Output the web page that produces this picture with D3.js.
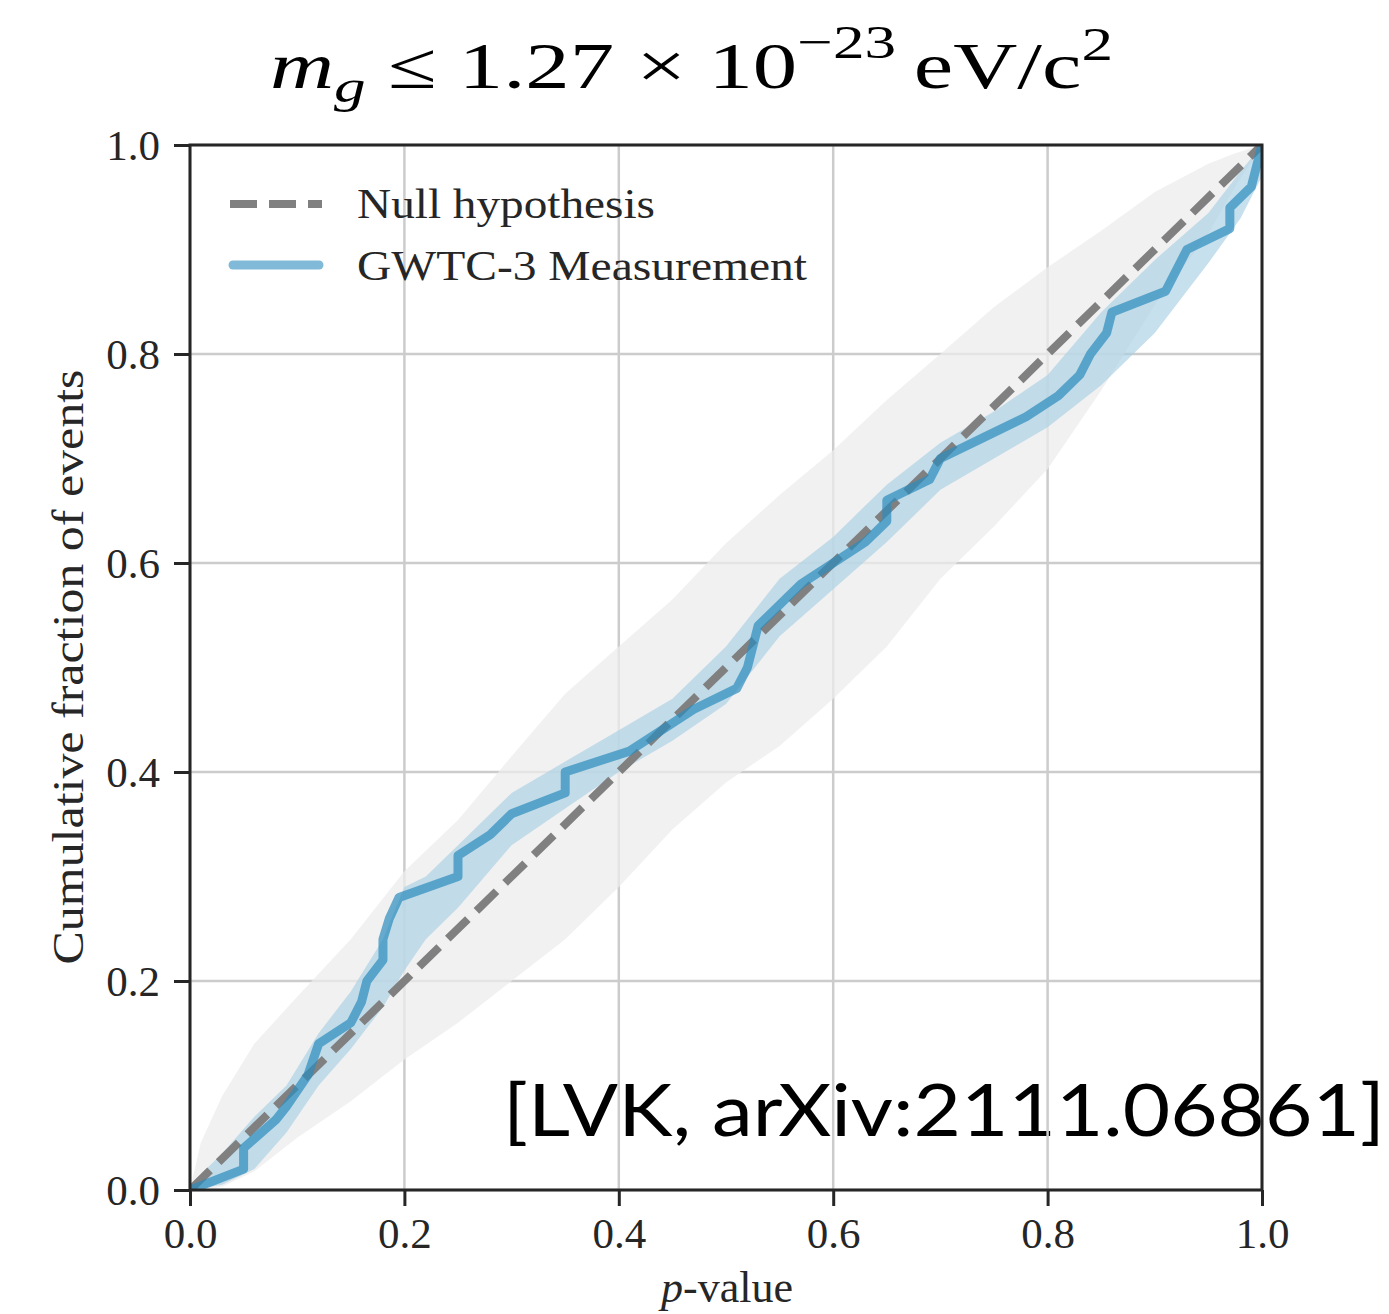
<!DOCTYPE html>
<html>
<head>
<meta charset="utf-8">
<script src="https://cdn.jsdelivr.net/npm/d3@7"></script>
<style>
  body { margin: 0; background: #fff; }
  text { font-family: "Liberation Serif", "DejaVu Serif", serif; fill: #262626; }
</style>
</head>
<body>
<svg id="chart" width="1389" height="1314"></svg>
<script>
// measured p-p curve (p-value, cumulative fraction)
var measX = [0, 0.05, 0.05, 0.08, 0.09, 0.11, 0.12, 0.15, 0.16, 0.165, 0.18, 0.18, 0.186, 0.195, 0.25, 0.25, 0.28, 0.30, 0.35, 0.35, 0.41, 0.47, 0.51, 0.52, 0.53, 0.57, 0.60, 0.63, 0.65, 0.65, 0.69, 0.70, 0.74, 0.78, 0.81, 0.83, 0.84, 0.855, 0.86, 0.91, 0.93, 0.97, 0.97, 0.99, 1.0];
var measY = [0, 0.02, 0.04, 0.067, 0.08, 0.11, 0.14, 0.16, 0.18, 0.20, 0.22, 0.24, 0.26, 0.28, 0.30, 0.32, 0.34, 0.36, 0.38, 0.40, 0.42, 0.46, 0.48, 0.50, 0.54, 0.58, 0.60, 0.62, 0.64, 0.66, 0.68, 0.70, 0.72, 0.74, 0.76, 0.78, 0.80, 0.82, 0.84, 0.86, 0.90, 0.92, 0.94, 0.96, 1.0];

// measurement uncertainty band
var bandX  = [0, 0.03, 0.06, 0.09, 0.12, 0.15, 0.18, 0.20, 0.22, 0.25, 0.30, 0.35, 0.40, 0.45, 0.50, 0.55, 0.60, 0.65, 0.70, 0.75, 0.80, 0.85, 0.90, 0.95, 0.98, 1.0];
var bandLo = [0, 0.005, 0.02, 0.055, 0.10, 0.135, 0.175, 0.21, 0.24, 0.27, 0.33, 0.365, 0.40, 0.43, 0.465, 0.53, 0.575, 0.62, 0.67, 0.70, 0.73, 0.77, 0.82, 0.887, 0.93, 0.97];
var bandHi = [0.005, 0.035, 0.07, 0.10, 0.15, 0.19, 0.24, 0.29, 0.30, 0.33, 0.38, 0.41, 0.44, 0.47, 0.52, 0.585, 0.625, 0.675, 0.715, 0.745, 0.78, 0.84, 0.89, 0.935, 0.975, 1.0];

// null-hypothesis envelope
var nullX  = [0, 0.01, 0.03, 0.06, 0.10, 0.15, 0.20, 0.25, 0.30, 0.35, 0.40, 0.45, 0.50, 0.55, 0.60, 0.65, 0.70, 0.75, 0.80, 0.85, 0.90, 0.95, 0.975, 1.0];
var nullLo = [0, 0, 0.003, 0.018, 0.05, 0.085, 0.125, 0.16, 0.20, 0.24, 0.29, 0.345, 0.39, 0.425, 0.47, 0.52, 0.585, 0.635, 0.69, 0.765, 0.847, 0.915, 0.96, 1.0];
var nullHi = [0, 0.045, 0.09, 0.14, 0.185, 0.24, 0.305, 0.354, 0.415, 0.475, 0.52, 0.565, 0.619, 0.665, 0.708, 0.756, 0.80, 0.845, 0.883, 0.918, 0.955, 0.982, 0.992, 1.0];

var tickVals = [0, 0.2, 0.4, 0.6, 0.8, 1.0];

var svg = d3.select("#chart");
var pLeft = 190, pRight = 1262, pTop = 145, pBottom = 1190;
var x = d3.scaleLinear().domain([0, 1]).range([pLeft, pRight]);
var y = d3.scaleLinear().domain([0, 1]).range([pBottom, pTop]);

// annotation, drawn first so the grid sits over it
svg.append("text").attr("x", 503).attr("y", 1136)
  .attr("textLength", 882).attr("lengthAdjust", "spacingAndGlyphs")
  .style("font-family", "Lato, 'Noto Sans', sans-serif").style("font-size", "72px").style("fill", "#000")
  .text("[LVK, arXiv:2111.06861]");

svg.append("clipPath").attr("id", "plotClip").append("rect")
  .attr("x", pLeft).attr("y", pTop).attr("width", pRight - pLeft).attr("height", pBottom - pTop);

// grid
var grid = svg.append("g");
grid.selectAll("line.gx").data(tickVals).enter().append("line")
  .attr("x1", function (d) { return x(d); }).attr("x2", function (d) { return x(d); })
  .attr("y1", pTop).attr("y2", pBottom).attr("stroke", "#cccccc").attr("stroke-width", 2.5);
grid.selectAll("line.gy").data(tickVals).enter().append("line")
  .attr("y1", function (d) { return y(d); }).attr("y2", function (d) { return y(d); })
  .attr("x1", pLeft).attr("x2", pRight).attr("stroke", "#cccccc").attr("stroke-width", 2.5);

var plot = svg.append("g").attr("clip-path", "url(#plotClip)");

var nullArea = d3.area().x(function (d, i) { return x(nullX[i]); })
  .y0(function (d, i) { return y(nullLo[i]); }).y1(function (d, i) { return y(nullHi[i]); });
plot.append("path").datum(nullX).attr("d", nullArea).attr("fill", "#ececec").attr("fill-opacity", 0.75);

var bandArea = d3.area().x(function (d, i) { return x(bandX[i]); })
  .y0(function (d, i) { return y(bandLo[i]); }).y1(function (d, i) { return y(bandHi[i]); });
plot.append("path").datum(bandX).attr("d", bandArea).attr("fill", "#a9d0e3").attr("fill-opacity", 0.65);

plot.append("line").attr("x1", x(0)).attr("y1", y(0)).attr("x2", x(1)).attr("y2", y(1))
  .attr("stroke", "#808080").attr("stroke-width", 8).attr("stroke-dasharray", "28,12");

var measLine = d3.line().x(function (d, i) { return x(measX[i]); }).y(function (d, i) { return y(measY[i]); });
plot.append("path").datum(measX).attr("d", measLine).attr("fill", "none")
  .attr("stroke", "#2b8cbe").attr("stroke-opacity", 0.7).attr("stroke-width", 9)
  .attr("stroke-linejoin", "round");

// axes
var axL = svg.append("g").attr("transform", "translate(" + pLeft + ",0)")
  .call(d3.axisLeft(y).tickValues(tickVals).tickFormat(d3.format(".1f")).tickSize(16).tickPadding(10));
var axB = svg.append("g").attr("transform", "translate(0," + pBottom + ")")
  .call(d3.axisBottom(x).tickValues(tickVals).tickFormat(d3.format(".1f")).tickSize(16).tickPadding(10));
[axL, axB].forEach(function (a) {
  a.select(".domain").remove();
  a.selectAll(".tick line").attr("stroke", "#262626").attr("stroke-width", 3);
  a.selectAll(".tick text").style("font-size", "43px").style("font-family", "'Liberation Serif', serif").attr("fill", "#262626");
});
axL.selectAll(".tick text").attr("dy", "0.34em").attr("x", -30);
axB.selectAll(".tick text").attr("dy", "0.74em");

svg.append("rect").attr("x", pLeft).attr("y", pTop).attr("width", pRight - pLeft).attr("height", pBottom - pTop)
  .attr("fill", "none").attr("stroke", "#262626").attr("stroke-width", 3);

// legend
var leg = svg.append("g");
leg.append("line").attr("x1", 230).attr("x2", 322).attr("y1", 204).attr("y2", 204)
  .attr("stroke", "#808080").attr("stroke-width", 8).attr("stroke-dasharray", "27,12");
leg.append("line").attr("x1", 233).attr("x2", 319).attr("y1", 265).attr("y2", 265)
  .attr("stroke", "#2b8cbe").attr("stroke-opacity", 0.6).attr("stroke-width", 9).attr("stroke-linecap", "round");
leg.append("text").attr("x", 357).attr("y", 218).attr("textLength", 298).attr("lengthAdjust", "spacingAndGlyphs")
  .style("font-size", "42px").text("Null hypothesis");
leg.append("text").attr("x", 357).attr("y", 280).attr("textLength", 450).attr("lengthAdjust", "spacingAndGlyphs")
  .style("font-size", "42px").text("GWTC-3 Measurement");

// axis labels
svg.append("text").attr("transform", "translate(83,667) rotate(-90)").attr("text-anchor", "middle")
  .attr("textLength", 595).attr("lengthAdjust", "spacingAndGlyphs")
  .style("font-size", "44px").text("Cumulative fraction of events");
var xl = svg.append("text").attr("x", 727).attr("y", 1302).attr("text-anchor", "middle").style("font-size", "44px");
xl.append("tspan").style("font-style", "italic").text("p");
xl.append("tspan").text("-value");

// title
var t = svg.append("text").attr("x", 270).attr("y", 88).style("font-size", "66px").style("fill", "#000")
  .attr("textLength", 843).attr("lengthAdjust", "spacingAndGlyphs");
t.append("tspan").style("font-style", "italic").text("m");
t.append("tspan").style("font-style", "italic").style("font-size", "47px").attr("dy", 14).text("g");
t.append("tspan").attr("dy", -14).text(" \u2264 1.27 \u00d7 10");
t.append("tspan").style("font-size", "47px").attr("dy", -30).text("\u221223");
t.append("tspan").attr("dy", 30).text("\u2009eV/c");
t.append("tspan").style("font-size", "47px").attr("dy", -28).text("2");
</script>
</body>
</html>
